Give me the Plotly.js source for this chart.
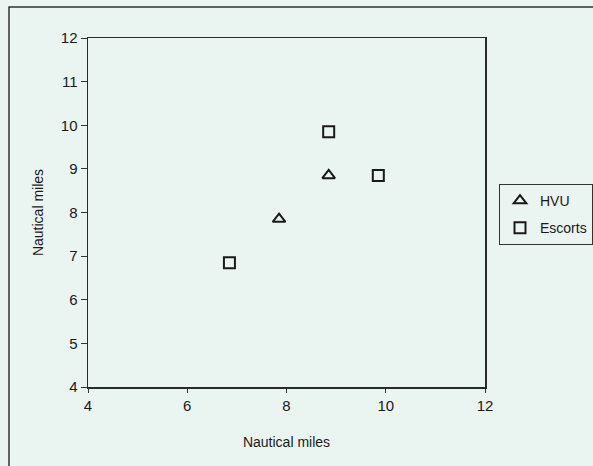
<!DOCTYPE html>
<html>
<head>
<meta charset="utf-8">
<script src="https://cdn.plot.ly/plotly-3.0.1.min.js"></script>
<style>html,body{margin:0;padding:0;background:#eaf4f0;overflow:hidden;}</style>
</head>
<body>
<div id="chart" style="width:593px;height:466px;"></div>
<script>
const hvuX = [7.85, 8.85];
const hvuY = [7.85, 8.85];
const escortX = [6.85, 8.85, 9.85];
const escortY = [6.85, 9.85, 8.85];
const seriesNames = ["HVU", "Escorts"];
const tickVals = [4, 6, 8, 10, 12];
const yTickVals = [4, 5, 6, 7, 8, 9, 10, 11, 12];
const axisTitle = "Nautical miles";

const W = 593, H = 466;
const L = 88, R = 485, T = 38, B = 387;
const px = x => (x - L) / (R - L);
const py = y => (B - y) / (B - T);

const markerLine = {color: "#1a1a1a", width: 2};
const traces = [
  {x: hvuX, y: hvuY, name: seriesNames[0], mode: "markers", type: "scatter", legendgroup: "a",
   marker: {symbol: "triangle-up-open", size: 11, color: "#1a1a1a", line: markerLine}},
  {x: escortX, y: escortY, name: seriesNames[1], mode: "markers", type: "scatter", legendgroup: "b",
   marker: {symbol: "square-open", size: 11, color: "#1a1a1a", line: markerLine}}
];

const fontFam = "Liberation Sans, Arial, sans-serif";
const txt = "#1a1a1a";
const layout = {
  width: W, height: H,
  margin: {l: L, r: W - R, t: T, b: H - B, autoexpand: false},
  paper_bgcolor: "#eaf4f0",
  plot_bgcolor: "#eaf4f0",
  font: {family: fontFam, size: 14, color: txt},
  showlegend: true,
  legend: {
    x: px(499), xanchor: "left", y: py(184), yanchor: "top",
    bordercolor: "#333", borderwidth: 1, bgcolor: "#eaf4f0",
    font: {family: fontFam, size: 14, color: txt},
    traceorder: "grouped", tracegroupgap: 6,
    itemwidth: 30
  },
  xaxis: {
    range: [4, 12], tickvals: tickVals, ticktext: tickVals.map(String),
    showgrid: false, zeroline: false,
    showline: true, linecolor: "#2a2a2a", linewidth: 1.5, mirror: true,
    ticks: "outside", ticklen: 4, tickcolor: "#333",
    tickfont: {family: fontFam, size: 15, color: txt},
    title: {text: axisTitle, font: {family: fontFam, size: 14, color: txt}, standoff: 24}
  },
  yaxis: {
    range: [4, 12], tickvals: yTickVals, ticktext: yTickVals.map(String),
    showgrid: false, zeroline: false,
    showline: true, linecolor: "#2a2a2a", linewidth: 1.5, mirror: true,
    ticks: "outside", ticklen: 6, tickcolor: "#333",
    tickfont: {family: fontFam, size: 15, color: txt},
    title: {text: axisTitle, font: {family: fontFam, size: 14, color: txt}, standoff: 14}
  },
  shapes: [
    {type: "rect", xref: "paper", yref: "paper",
     x0: px(9), x1: px(620), y0: py(490), y1: py(7),
     line: {color: "#333", width: 1.5}, fillcolor: "rgba(0,0,0,0)", layer: "below"}
  ]
};

Plotly.newPlot("chart", traces, layout, {displayModeBar: false, staticPlot: true});
</script>
</body>
</html>
